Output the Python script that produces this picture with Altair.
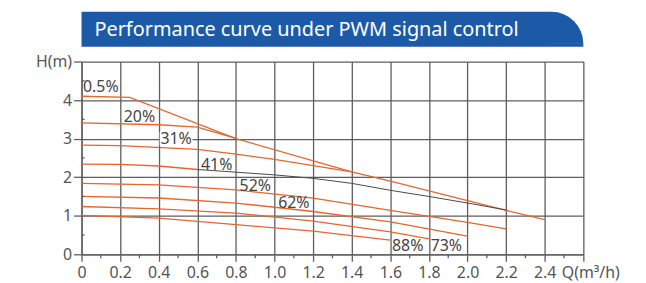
import altair as alt
import pandas as pd
import math

title_text = "Performance curve under PWM signal control"

# Curves: (series, Q values, H values)
s_max_q = [0, 0.25, 0.8, 1.4, 1.6, 2.2, 2.4]
s_max_h = [4.1, 4.07, 3.0, 2.14, 1.9, 1.14, 0.9]
s20_q = [0, 0.4, 0.6, 0.8]
s20_h = [3.41, 3.36, 3.3, 3.01]
s31_q = [0, 0.2, 0.6, 0.8, 1.0, 1.4]
s31_h = [2.83, 2.82, 2.72, 2.6, 2.46, 2.14]
s41_q = [0, 0.2, 0.4, 0.6]
s41_h = [2.34, 2.33, 2.29, 2.2]
s41g_q = [0.6, 0.8, 1.0, 1.2, 1.4, 1.6, 1.8, 2.0, 2.2]
s41g_h = [2.2, 2.13, 2.06, 1.97, 1.84, 1.66, 1.5, 1.33, 1.15]
s52_q = [0, 0.4, 0.8, 1.2, 1.6, 2.0, 2.2]
s52_h = [1.84, 1.8, 1.67, 1.46, 1.14, 0.83, 0.66]
s62_q = [0, 0.4, 0.8, 1.2, 1.6, 2.0]
s62_h = [1.5, 1.46, 1.33, 1.11, 0.84, 0.47]
s73_q = [0, 0.4, 0.8, 1.2, 1.6, 1.8]
s73_h = [1.24, 1.18, 1.07, 0.86, 0.58, 0.40]
s88_q = [0, 0.4, 0.8, 1.2, 1.6]
s88_h = [1.01, 0.94, 0.77, 0.6, 0.37]

label_text = ["0.5%", "20%", "31%", "41%", "52%", "62%", "88%", "73%"]
label_q = [0.10, 0.30, 0.49, 0.70, 0.90, 1.10, 1.69, 1.89]
label_h = [4.33, 3.55, 3.0, 2.31, 1.77, 1.33, 0.21, 0.21]

x_ticks = [round(i * 0.2, 1) for i in range(14)]
x_minor = [round(0.1 + i * 0.2, 1) for i in range(13)]
y_ticks = [0, 1, 2, 3, 4, 5]
y_minor = [0.5, 1.5, 2.5, 3.5, 4.5]

series = [
    ("0.5%", s_max_q, s_max_h),
    ("20%", s20_q, s20_h),
    ("31%", s31_q, s31_h),
    ("41%", s41_q, s41_h),
    ("41g", s41g_q, s41g_h),
    ("52%", s52_q, s52_h),
    ("62%", s62_q, s62_h),
    ("73%", s73_q, s73_h),
    ("88%", s88_q, s88_h),
]
rows = []
for name, qs, hs in series:
    for i, (q, h) in enumerate(zip(qs, hs)):
        rows.append({"s": name, "q": q, "h": h, "o": i})
curves = pd.DataFrame(rows)
labels = pd.DataFrame({"t": label_text, "q": label_q, "h": label_h})

W, H = 505, 194
grid_col = "#5e5e5e"
orange = "#e8652c"
blue = "#1c5aa7"

xs = alt.Scale(domain=[0, 2.6], nice=False, zero=False)
ys = alt.Scale(domain=[0, 5], nice=False)

x_axis = alt.Axis(values=x_ticks, grid=True, gridColor=grid_col, gridWidth=1.3,
                  domainColor=grid_col, domainWidth=1.3, tickColor=grid_col, tickWidth=1.3,
                  tickSize=7, labelFont="Noto Sans", labelFontSize=16, labelColor="#555555",
                  labelPadding=3, title=None, labelFlush=False, labelOverlap=False,
                  labelOffset={"condition": {"test": "datum.value > 2.55", "value": 7}, "value": 0},
                  labelExpr="datum.value == 0 ? '0' : (datum.value > 2.55 ? 'Q(m³/h)' : format(datum.value, '.1f'))")
y_axis = alt.Axis(values=y_ticks, grid=True, gridColor=grid_col, gridWidth=1.3,
                  domainColor=grid_col, domainWidth=1.3, tickColor=grid_col, tickWidth=1.3,
                  tickSize=8, labelFont="Noto Sans", labelFontSize=16, labelColor="#555555",
                  labelPadding=2, title=None, labelFlush=False, labelOverlap=False,
                  labelExpr="datum.value == 5 ? 'H(m)' : datum.label")


def X(f):
    return alt.X(f, scale=xs, axis=x_axis, title=None)


def Y(f):
    return alt.Y(f, scale=ys, axis=y_axis, title=None)


mask = alt.Chart(labels).transform_filter("datum.t == '31%'").transform_calculate(
    q1="datum.q - 0.085", q2="datum.q + 0.085", h1="datum.h - 0.17", h2="datum.h + 0.17"
).mark_rect(color="white").encode(
    x=X("q1:Q"), x2="q2:Q", y=Y("h1:Q"), y2="h2:Q"
)

lines = alt.Chart(curves).mark_line().encode(
    x=X("q:Q"),
    y=Y("h:Q"),
    color=alt.Color("s:N", scale=alt.Scale(
        domain=["0.5%", "20%", "31%", "41%", "41g", "52%", "62%", "73%", "88%"],
        range=[orange, orange, orange, orange, "#4a4a4a", orange, orange, orange, orange]),
        legend=None),
    strokeWidth=alt.condition("datum.s == '41g'", alt.value(1.0), alt.value(1.3)),
    detail="s:N",
    order="o:Q",
)

texts = alt.Chart(labels).mark_text(font="Noto Sans", fontSize=16, color="#444444",
                                    align="center", baseline="middle").encode(
    x=X("q:Q"), y=Y("h:Q"), text="t:N"
)

xm = alt.Chart(pd.DataFrame({"q": x_minor})).mark_rule(color=grid_col, strokeWidth=1.3).encode(
    x=X("q:Q"), y=alt.value(H), y2=alt.value(H + 4)
)
ym = alt.Chart(pd.DataFrame({"h": y_minor})).mark_rule(color=grid_col, strokeWidth=1.3).encode(
    y=Y("h:Q"), x=alt.value(0), x2=alt.value(3)
)

banner_df = pd.DataFrame({"t": [title_text]})
R = 32
banner = alt.Chart(banner_df).mark_rect(color=blue).encode(
    x=alt.value(0), x2=alt.value(W - R + 0.5), y=alt.value(-50), y2=alt.value(-15)
)
banner2 = alt.Chart(banner_df).mark_rect(color=blue).encode(
    x=alt.value(W - R), x2=alt.value(W), y=alt.value(-50 + R - 0.5), y2=alt.value(-15)
)
corner = alt.Chart(banner_df).mark_arc(color=blue).encode(
    x=alt.value(W - R), y=alt.value(-50 + R), radius=alt.value(R),
    theta=alt.value(0), theta2=alt.value(math.pi / 2)
)
btext = alt.Chart(banner_df).mark_text(font="Noto Sans", fontSize=20, color="white",
                                       align="left", baseline="middle").encode(
    x=alt.value(13), y=alt.value(-32), text="t:N"
)

chart = alt.layer(mask, lines, xm, ym, texts, banner, banner2, corner, btext).properties(
    width=W, height=H, autosize="none",
    padding={"left": 74, "top": 53, "right": 55, "bottom": 28},
).configure_view(stroke=None)

chart.save("out.html", embed_options={"renderer": "svg", "actions": False})
